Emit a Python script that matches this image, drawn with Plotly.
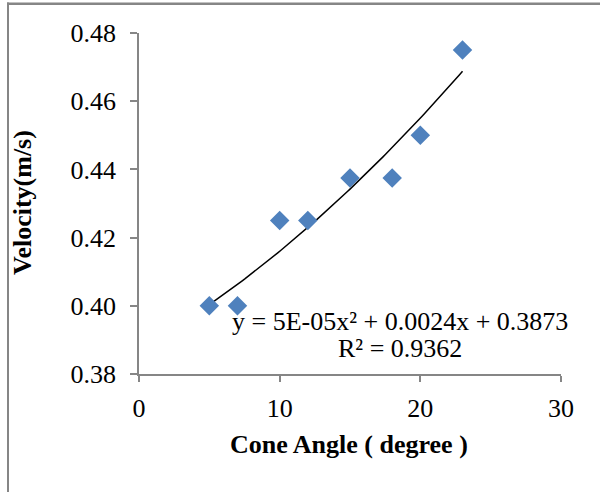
import numpy as np
import plotly.graph_objects as go

cone_angle = [5, 7, 10, 12, 15, 18, 20, 23]
velocity = [0.400, 0.400, 0.425, 0.425, 0.4375, 0.4375, 0.450, 0.475]
x_ticks = [0, 10, 20, 30]
y_ticks = [0.38, 0.40, 0.42, 0.44, 0.46, 0.48]
eq_text = "y = 5E-05x² + 0.0024x + 0.3873"
r2_text = "R² = 0.9362"

coef = np.polyfit(cone_angle, velocity, 2)
xf = np.linspace(min(cone_angle), max(cone_angle), 100)
yf = np.polyval(coef, xf)

FONT = "Liberation Serif"
FS = 26
W, H = 600, 492
PL, PT = 8, 0
pw, ph = W - PL, H - PT
X0, X1, Y0, Y1 = 139, 561, 33, 374

def px(x):
    return (x - PL) / pw

def py(y):
    return (H - y) / ph

fig = go.Figure()
fig.add_trace(go.Scatter(x=xf, y=yf, mode="lines",
                         line=dict(color="black", width=1.5), hoverinfo="skip"))
fig.add_trace(go.Scatter(x=cone_angle, y=velocity, mode="markers",
                         marker=dict(symbol="diamond", size=15, color="#4F81BD",
                                     line=dict(width=0))))

fig.update_layout(
    width=W, height=H,
    margin=dict(l=PL, r=0, t=PT, b=0, autoexpand=False),
    paper_bgcolor="white", plot_bgcolor="white",
    showlegend=False,
    font=dict(family=FONT, size=FS, color="black"),
    xaxis=dict(domain=[px(X0), px(X1)], range=[0, 30], tickvals=x_ticks,
               ticktext=[str(v) for v in x_ticks], automargin=False,
               showgrid=False, zeroline=False, showline=True, linecolor="#868686",
               linewidth=1.5, ticks="outside", ticklen=6, tickcolor="#868686",
               tickwidth=1.5, ticklabelstandoff=4,
               tickfont=dict(family=FONT, size=FS)),
    yaxis=dict(domain=[py(Y1), py(Y0)], range=[0.38, 0.48], tickvals=y_ticks,
               ticktext=[f"{v:.2f}" for v in y_ticks], automargin=False,
               showgrid=False, zeroline=False, showline=True, linecolor="#868686",
               linewidth=1.5, ticks="outside", ticklen=7, tickcolor="#868686",
               tickwidth=1.5, ticklabelstandoff=9,
               tickfont=dict(family=FONT, size=FS)),
)

fig.add_annotation(x=18.55, y=0.3953, text=eq_text, showarrow=False,
                   xanchor="center", yanchor="middle",
                   font=dict(family=FONT, size=FS))
fig.add_annotation(x=18.55, y=0.3874, text=r2_text, showarrow=False,
                   xanchor="center", yanchor="middle",
                   font=dict(family=FONT, size=FS))

fig.add_annotation(xref="paper", yref="paper", x=px(349), y=py(444),
                   text="<b>Cone Angle ( degree )</b>", showarrow=False,
                   xanchor="center", yanchor="middle",
                   font=dict(family=FONT, size=FS))
fig.add_annotation(xref="paper", yref="paper", x=px(22), y=py(203),
                   text="<b>Velocity(m/s)</b>", showarrow=False, textangle=-90,
                   xanchor="center", yanchor="middle",
                   font=dict(family=FONT, size=FS))

# outer chart border as thin filled bars (top and left)
fig.add_shape(type="rect", xref="paper", yref="paper", layer="above",
              x0=px(7), x1=1, y0=py(5), y1=py(2.5),
              fillcolor="#868686", line=dict(width=0))
fig.add_shape(type="rect", xref="paper", yref="paper", layer="above",
              x0=px(7), x1=px(9), y0=0, y1=py(2.5),
              fillcolor="#868686", line=dict(width=0))

fig.write_html("out.html", config={"displayModeBar": False},
               post_script="document.body.style.margin='0';document.body.style.padding='0';")
